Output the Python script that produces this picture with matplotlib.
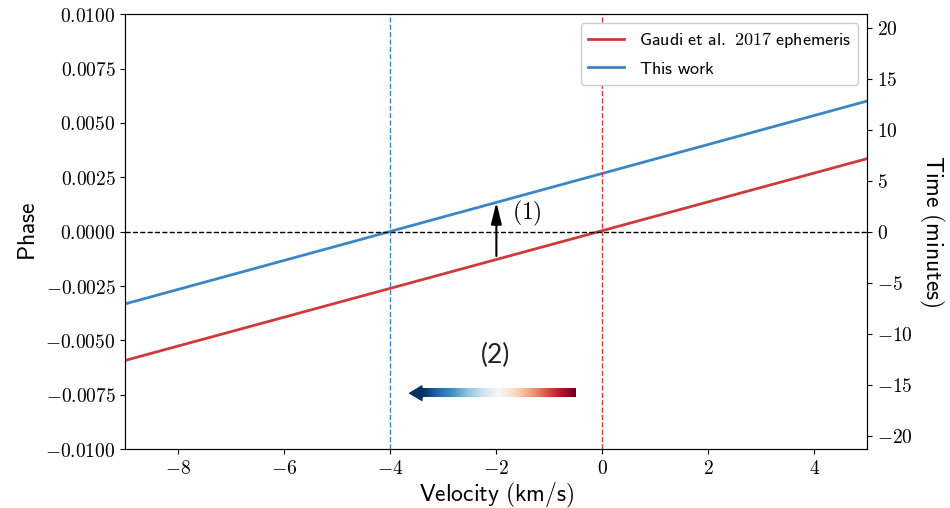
import numpy as np
import matplotlib
matplotlib.use('Agg')
import matplotlib.pyplot as plt
from matplotlib.patches import Polygon

plt.rcParams['mathtext.fontset'] = 'cm'
plt.rcParams['font.family'] = ['DejaVu Sans']

# data
velocity = [-9, 5]
phase_gaudi = [-0.00592, 0.00336]   # Gaudi et al. 2017 ephemeris
phase_this = [-0.00332, 0.00601]    # this work
v_gaudi = 0.0
v_this = -4.0
period_min = 1.4811 * 24 * 60      # phase -> minutes

red = '#cd3b3c'
blue = '#3c86c3'

fig, ax = plt.subplots(figsize=(9.5, 5.08), dpi=100)
fig.subplots_adjust(left=0.132, right=0.913, top=0.972, bottom=0.116)

ax.plot(velocity, phase_gaudi, color=red, lw=2, label='Gaudi et al. 2017 ephemeris')
ax.plot(velocity, phase_this, color=blue, lw=2, label='This work')
ax.axhline(0, color='k', ls='--', lw=1)
ax.axvline(v_gaudi, color=red, ls='--', lw=1)
ax.axvline(v_this, color=blue, ls='--', lw=1)

ax.set_xlim(-9, 5)
ax.set_ylim(-0.01, 0.01)
yt = np.arange(-0.01, 0.0101, 0.0025)
ax.set_yticks(yt)
ax.set_yticklabels([r'$%.4f$' % t if abs(t) > 1e-9 else r'$0.0000$' for t in yt])
ax.set_xticks([-8, -6, -4, -2, 0, 2, 4])
ax.set_xticklabels([r'$%d$' % t for t in [-8, -6, -4, -2, 0, 2, 4]])
ax.tick_params(labelsize=14)
ax.set_xlabel(r'$\mathsf{Velocity\ (km/s)}$', fontsize=17, labelpad=2)
ax.set_ylabel(r'$\mathsf{Phase}$', fontsize=17)

ax2 = ax.twinx()
ax2.set_ylim(-0.01 * period_min, 0.01 * period_min)
tt = [-20, -15, -10, -5, 0, 5, 10, 15, 20]
ax2.set_yticks(tt)
ax2.set_yticklabels([r'$%d$' % t for t in tt])
ax2.tick_params(labelsize=14)
ax2.set_ylabel(r'$\mathsf{Time\ (minutes)}$', fontsize=17, rotation=270, labelpad=24)

# arrow (1)
ax.annotate('', xy=(-2, 0.00135), xytext=(-2, -0.00112),
            arrowprops=dict(arrowstyle='-|>,head_width=0.32,head_length=1.3',
                            color='k', lw=1.5, shrinkA=0, shrinkB=0))
ax.text(-1.42, 0.00085, r'$(1)$', fontsize=17, ha='center', va='center')

# gradient arrow (2)
y0 = -0.00743
hh = 0.00019
x_tail, x_neck, x_tip = -0.5, -3.4, -3.66
grad = np.linspace(0, 1, 256).reshape(1, -1)
ax.imshow(grad, cmap='RdBu_r', aspect='auto', extent=[x_neck, x_tail, y0 - hh, y0 + hh],
          zorder=3, interpolation='bilinear')
head = Polygon([[x_tip, y0], [x_neck, y0 + 0.00038], [x_neck + 0.03, y0], [x_neck, y0 - 0.00038]],
               closed=True, color=plt.get_cmap('RdBu_r')(0.0), zorder=4, lw=0)
ax.add_patch(head)
ax.text(-2.02, -0.0057, '(2)', fontsize=19, ha='center', va='center',
        family=['Lato', 'DejaVu Sans'], weight='normal', color='#222222')

ax.set_xlim(-9, 5)
ax.set_ylim(-0.01, 0.01)

leg = ax.legend(loc='upper right', fontsize=13, framealpha=1)
leg.get_frame().set_edgecolor('#cccccc')
for t in leg.get_texts():
    t.set_text(r'$\mathsf{%s}$' % t.get_text().replace(' ', r'\ '))

plt.savefig('out.png', dpi=100)
